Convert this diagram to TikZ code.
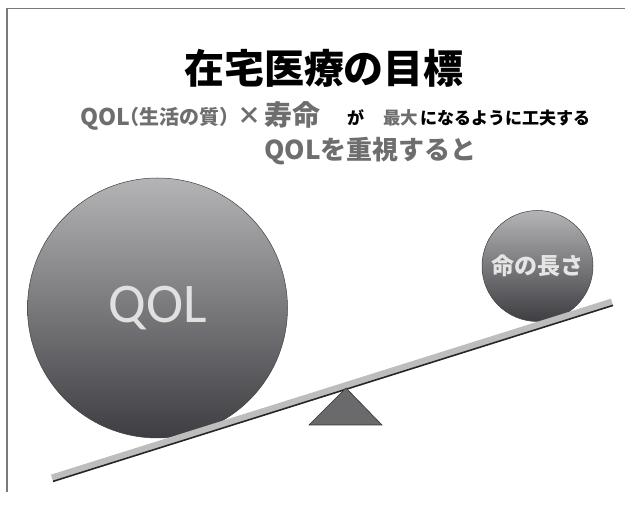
\documentclass[tikz,border=0pt]{standalone}
\usepackage{fontspec}
\newfontfamily\jp{Noto Sans CJK JP}
\newfontfamily\carl{Carlito}
\definecolor{txtgray}{HTML}{6E6E6E}
\definecolor{framegray}{HTML}{7A7A7A}
\definecolor{beamgray}{HTML}{BDBDBD}
\definecolor{fulcrum}{HTML}{6A6A6C}
\definecolor{balltop}{HTML}{B4B4B7}
\definecolor{ballbot}{HTML}{3E3E42}
\begin{document}
\begin{tikzpicture}[x=1pt,y=-1pt,
  ballstyle/.style={circle, draw=black!75, line width=0.5pt, top color=balltop, bottom color=ballbot, inner sep=0pt},
  jtext/.style={inner sep=0pt, font=\jp\bfseries},
]
\useasboundingbox (0,0) rectangle (625,510);
% frame
\coordinate (fTL) at (7,8.5);
\coordinate (fTR) at (625,8.5);
\coordinate (fBL) at (7,492);
\draw[framegray, line width=1.4pt] (fBL) -- (fTL) -- (fTR);
% title
\node[jtext, font=\jp\bfseries\fontsize{40}{40}\selectfont, anchor=center] (title) at (324,68) {在宅医療の目標};
% line 2
\node[jtext, txtgray, font=\jp\bfseries\fontsize{23}{23}\selectfont, anchor=base west] (l2q) at (80,126) {QOL};
\node[jtext, txtgray, font=\jp\bfseries\fontsize{20}{20}\selectfont, anchor=base west] (l2p) at (119,125) {（生活の質）};
\node[jtext, txtgray, font=\jp\bfseries\fontsize{24}{24}\selectfont, anchor=base] (l2x) at (249,125) {×};
\node[jtext, txtgray, font=\jp\bfseries\fontsize{28}{28}\selectfont, anchor=base west] (l2j) at (264,126) {寿命};
\node[jtext, font=\jp\bfseries\fontsize{17}{17}\selectfont, anchor=base west] (l2g) at (347,125) {が};
\node[jtext, txtgray, font=\jp\bfseries\fontsize{17.5}{17.5}\selectfont, anchor=base west] (l2m) at (383,125) {最大};
\node[jtext, font=\jp\bfseries\fontsize{17}{17}\selectfont, anchor=base west] (l2r) at (420,125) {になるように工夫する};
% line 3
\node[jtext, txtgray, font=\jp\bfseries\fontsize{26}{26}\selectfont, anchor=base west] (l3) at (264,160) {QOLを重視すると};
% balls
\node[ballstyle, minimum size=260pt] (qol) at (157.5,308) {};
\node[text=black!12, font=\carl\fontsize{56}{56}\selectfont, inner sep=0pt] (qoltxt) at (qol.center) {QOL};
\node[ballstyle, minimum size=111pt] (life) at (537.5,266) {};
\node[text=black!10, font=\jp\bfseries\fontsize{23}{23}\selectfont, inner sep=0pt] (lifetxt) at (life.center) {命の長さ};
% beam
\coordinate (bL) at (52,478);
\coordinate (bR) at (612,302);
\draw[beamgray, line width=7pt] (bL) -- (bR);
\draw[black!85, line width=1.6pt] ([shift={(1.0,3.4)}]bL) -- ([shift={(1.0,3.4)}]bR);
% fulcrum
\coordinate (tA) at (346,388);
\coordinate (tB) at (382,425);
\coordinate (tC) at (309,425);
\draw[fill=fulcrum, draw=black!80, line width=0.6pt] (tA) -- (tB) -- (tC) -- cycle;
\end{tikzpicture}
\end{document}
